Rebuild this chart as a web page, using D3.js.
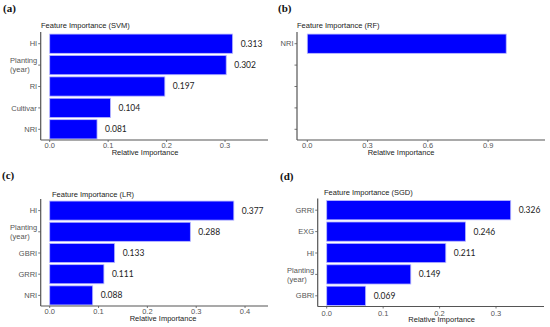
<!DOCTYPE html>
<html lang="en">
  <head>
    <meta charset="utf-8">
    <title>Feature Importance</title>
    <script src="https://cdn.jsdelivr.net/npm/d3@7"></script>
    <style>
      body { margin: 0; background: #fff; }
    </style>
  </head>
  <body>
    <script>

      // values
      var svmFeatures = ["HI", "Planting\n(year)", "RI", "Cultivar", "NRI"];
      var svmValues = [0.313, 0.302, 0.197, 0.104, 0.081];
      var svmTicks = [0, 0.1, 0.2, 0.3];

      var rfFeatures = ["NRI", "", "", "", ""];
      var rfValues = [0.99, 0, 0, 0, 0];
      var rfTicks = [0, 0.3, 0.6, 0.9];

      var lrFeatures = ["HI", "Planting\n(year)", "GBRI", "GRRI", "NRI"];
      var lrValues = [0.377, 0.288, 0.133, 0.111, 0.088];
      var lrTicks = [0, 0.1, 0.2, 0.3, 0.4];

      var sgdFeatures = ["GRRI", "EXG", "HI", "Planting\n(year)", "GBRI"];
      var sgdValues = [0.326, 0.246, 0.211, 0.149, 0.069];
      var sgdTicks = [0, 0.1, 0.2, 0.3];

      // panel layout (pixels)
      var panels = [
        { letter: "(a)", lx: 3, ly: 12, title: "Feature Importance (SVM)", tx: 41, ty: 27.5,
          feats: svmFeatures, vals: svmValues, ticks: svmTicks, labels: true,
          axisX: 40.7, x0: 49.7, x1: 268, xmax: 0.3735, y0: 33, y1: 140,
          tickY: 147.5, atX: 145, atY: 155 },
        { letter: "(b)", lx: 278, ly: 11.5, title: "Feature Importance (RF)", tx: 297, ty: 27.5,
          feats: rfFeatures, vals: rfValues, ticks: rfTicks, labels: false,
          axisX: 297, x0: 307.3, x1: 545, xmax: 1.183, y0: 33, y1: 140,
          tickY: 147.5, atX: 401, atY: 155 },
        { letter: "(c)", lx: 2, ly: 179, title: "Feature Importance (LR)", tx: 52, ty: 196.5,
          feats: lrFeatures, vals: lrValues, ticks: lrTicks, labels: true,
          axisX: 40.7, x0: 49.7, x1: 268, xmax: 0.447, y0: 200, y1: 306,
          tickY: 314, atX: 163, atY: 320.5 },
        { letter: "(d)", lx: 280, ly: 180, title: "Feature Importance (SGD)", tx: 324, ty: 195,
          feats: sgdFeatures, vals: sgdValues, ticks: sgdTicks, labels: true,
          axisX: 317.7, x0: 326.7, x1: 544, xmax: 0.385, y0: 199.5, y1: 306.5,
          tickY: 316, atX: 441.7, atY: 321.5 }
      ];

      var svg = d3.select("body").append("svg")
                  .attr("width", 550)
                  .attr("height", 327);

      var sans = "'Liberation Sans', Arial, sans-serif";
      var axisCol = "#555";
      var textCol = "#555";

      panels.forEach(function(p) {
        var g = svg.append("g");
        var idx = d3.range(p.vals.length);

        var x = d3.scaleLinear().domain([0, p.xmax]).range([p.x0, p.x1]);
        var y = d3.scaleBand().domain(idx).range([p.y0, p.y1])
                  .paddingInner(0.1).paddingOuter(0.05);

        // panel letter
        g.append("text")
         .attr("x", p.lx).attr("y", p.ly)
         .style("font-family", "'Liberation Serif', serif")
         .style("font-weight", "bold")
         .style("font-size", "11px")
         .style("fill", "#111")
         .text(p.letter);

        // title
        g.append("text")
         .attr("x", p.tx).attr("y", p.ty)
         .style("font-family", sans)
         .style("font-size", "7.5px")
         .style("fill", "#222")
         .text(p.title);

        // bars
        g.selectAll("rect.bar")
         .data(idx.filter(function(i) { return p.vals[i] > 0; }))
         .enter().append("rect")
         .attr("class", "bar")
         .attr("x", x(0))
         .attr("y", function(i) { return y(i); })
         .attr("width", function(i) { return x(p.vals[i]) - x(0); })
         .attr("height", y.bandwidth())
         .style("fill", "#0000ff")
         .style("stroke", "#b8b8ff")
         .style("stroke-width", 0.8);

        // value labels
        if (p.labels) {
          g.selectAll("text.val")
           .data(idx)
           .enter().append("text")
           .attr("class", "val")
           .attr("x", function(i) { return x(p.vals[i]) + 8; })
           .attr("y", function(i) { return y(i) + y.bandwidth() / 2; })
           .attr("dy", "0.35em")
           .style("font-family", "Lato, sans-serif")
           .style("font-size", "8.5px")
           .style("fill", "#222")
           .text(function(i) { return d3.format(".3f")(p.vals[i]); });
        }

        // y axis
        g.append("line")
         .attr("x1", p.axisX).attr("x2", p.axisX)
         .attr("y1", p.y0 - 1).attr("y2", p.y1)
         .style("stroke", axisCol).style("stroke-width", 1.2);

        idx.forEach(function(i) {
          var cy = y(i) + y.bandwidth() / 2;
          g.append("line")
           .attr("x1", p.axisX - 2.5).attr("x2", p.axisX)
           .attr("y1", cy).attr("y2", cy)
           .style("stroke", axisCol).style("stroke-width", 0.8);

          var lines = p.feats[i].split("\n");
          if (!lines[0]) return;
          var t = g.append("text")
                   .style("font-family", sans)
                   .style("font-size", "7.5px")
                   .style("fill", textCol);
          lines.forEach(function(s, k) {
            t.append("tspan")
             .attr("x", 0)
             .attr("y", cy + (k - (lines.length - 1) / 2) * 9)
             .attr("dy", "0.35em")
             .text(s);
          });
          // block is right-aligned to the axis, lines left-aligned inside it
          var w = t.node().getBBox().width;
          t.selectAll("tspan").attr("x", p.axisX - 3.5 - w);
        });

        // x axis
        g.append("line")
         .attr("x1", p.axisX).attr("x2", p.x1)
         .attr("y1", p.y1).attr("y2", p.y1)
         .style("stroke", axisCol).style("stroke-width", 1.2);

        p.ticks.forEach(function(v) {
          g.append("line")
           .attr("x1", x(v)).attr("x2", x(v))
           .attr("y1", p.y1).attr("y2", p.y1 + 2)
           .style("stroke", axisCol).style("stroke-width", 0.8);
          g.append("text")
           .attr("x", x(v)).attr("y", p.tickY)
           .attr("text-anchor", "middle")
           .style("font-family", sans)
           .style("font-size", "7.5px")
           .style("fill", textCol)
           .text(d3.format(".1f")(v));
        });

        g.append("text")
         .attr("x", p.atX).attr("y", p.atY)
         .attr("text-anchor", "middle")
         .style("font-family", sans)
         .style("font-size", "7.5px")
         .style("fill", "#222")
         .text("Relative Importance");
      });

    </script>
  </body>
</html>
